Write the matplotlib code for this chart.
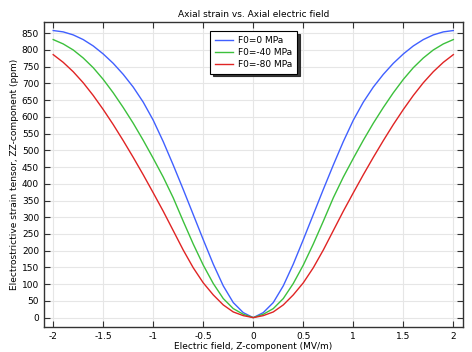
import numpy as np
import matplotlib
matplotlib.use('Agg')
import matplotlib.pyplot as plt

E = [-2.0, -1.9, -1.8, -1.7, -1.6, -1.5, -1.4, -1.3, -1.2, -1.1, -1.0,
     -0.9, -0.8, -0.7, -0.6, -0.5, -0.4, -0.3, -0.2, -0.1, 0.0,
     0.1, 0.2, 0.3, 0.4, 0.5, 0.6, 0.7, 0.8, 0.9, 1.0,
     1.1, 1.2, 1.3, 1.4, 1.5, 1.6, 1.7, 1.8, 1.9, 2.0]

s_0 = [858, 854, 845, 831, 812, 788, 760, 727, 689, 644, 590,
       526, 456, 383, 308, 233, 160, 95, 45, 15, 0,
       15, 45, 95, 160, 233, 308, 383, 456, 526, 590,
       644, 689, 727, 760, 788, 812, 831, 845, 854, 858]

s_40 = [831, 818, 800, 776, 747, 712, 672, 628, 581, 530, 476,
        420, 358, 288, 220, 157, 102, 57, 27, 10, 0,
        10, 27, 57, 102, 157, 220, 288, 358, 420, 476,
        530, 581, 628, 672, 712, 747, 776, 800, 818, 831]

s_80 = [786, 763, 735, 702, 664, 622, 577, 529, 479, 427, 373,
        318, 260, 202, 149, 104, 68, 38, 17, 6, 0,
        6, 17, 38, 68, 104, 149, 202, 260, 318, 373,
        427, 479, 529, 577, 622, 664, 702, 735, 763, 786]

labels = ['F0=0 MPa', 'F0=-40 MPa', 'F0=-80 MPa']

fig = plt.figure(figsize=(4.72, 3.52), dpi=100)
ax = fig.add_axes([0.093, 0.071, 0.888, 0.866])

ax.plot(E, s_0, color='#4060ff', lw=1.0, label=labels[0])
ax.plot(E, s_40, color='#3cc03c', lw=1.0, label=labels[1])
ax.plot(E, s_80, color='#e02424', lw=1.0, label=labels[2])

ax.set_xlim(-2.093, 2.097)
ax.set_ylim(-28, 883)
ax.set_xticks([-2, -1.5, -1, -0.5, 0, 0.5, 1, 1.5, 2])
ax.set_xticklabels(['-2', '-1.5', '-1', '-0.5', '0', '0.5', '1', '1.5', '2'])
ax.set_yticks(np.arange(0, 851, 50))
ax.grid(True, color='#e6e6e6', lw=0.8)
ax.set_axisbelow(True)
ax.tick_params(direction='in', length=4, width=0.8, labelsize=6.5,
               top=True, right=True, colors='#333333', labelcolor='black')
for sp in ax.spines.values():
    sp.set_color('#333333')
    sp.set_linewidth(1.0)

ax.set_title('Axial strain vs. Axial electric field', fontsize=6.5, pad=4)
ax.set_xlabel('Electric field, Z-component (MV/m)', fontsize=6.5, labelpad=1)
ax.set_ylabel('Electrostrictive strain tensor, ZZ-component (ppm)', fontsize=6.5, labelpad=2)

leg = ax.legend(loc='upper center', bbox_to_anchor=(0.5, 0.985), fontsize=6.5,
                fancybox=False, shadow={'color': '#222222', 'alpha': 0.9},
                framealpha=1, edgecolor='black',
                handlelength=2.0, handletextpad=0.6, borderpad=0.5, labelspacing=0.35)
leg.get_frame().set_linewidth(0.8)

fig.savefig('out.png', dpi=100)
